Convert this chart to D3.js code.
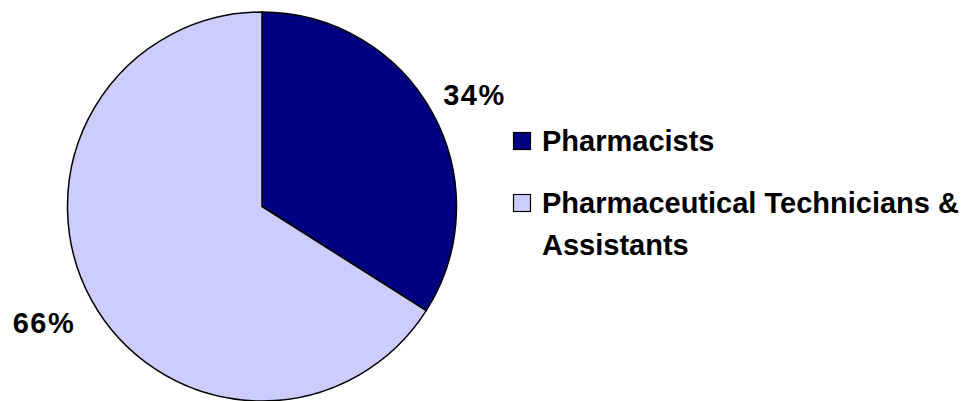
<!DOCTYPE html>
<html>
<head>
<meta charset="utf-8">
<script src="https://cdn.jsdelivr.net/npm/d3@7"></script>
<style>
  html, body { margin: 0; padding: 0; background: #fff; }
  svg { display: block; }
  text { font-family: Arial, "Liberation Sans", sans-serif; font-weight: bold; fill: #000; }
</style>
</head>
<body>
<svg id="chart" width="969" height="401"></svg>
<script>
const categories = ["Pharmacists", "Pharmaceutical Technicians & Assistants"];
const values = [34, 66];
const labels = ["34%", "66%"];
const legendLines = [["Pharmacists"], ["Pharmaceutical Technicians &", "Assistants"]];
const colors = ["#000080", "#CCCCFF"];

const svg = d3.select("#chart");
const cx = 262, cy = 206.5, r = 194.5;

const pie = d3.pie().sort(null).value(d => d)(values);
const arc = d3.arc().innerRadius(0).outerRadius(r);

const g = svg.append("g").attr("transform", `translate(${cx},${cy})`);
g.selectAll("path").data(pie).enter().append("path")
  .attr("d", arc)
  .attr("fill", (d, i) => colors[i])
  .attr("stroke", "#000")
  .attr("stroke-width", 1.5)
  .attr("stroke-linejoin", "round");

// percentage labels placed outside the slices
const labelPos = [[474.5, 105], [44, 333]];
g.selectAll("text.pct").data(pie).enter().append("text")
  .attr("class", "pct")
  .attr("x", (d, i) => labelPos[i][0] - cx)
  .attr("y", (d, i) => labelPos[i][1] - cy)
  .attr("text-anchor", "middle")
  .style("font-size", "29px")
  .style("letter-spacing", "1.5px")
  .text((d, i) => labels[i]);

// legend
const legend = svg.append("g");
const legendY = [132, 194];
categories.forEach((c, i) => {
  legend.append("rect")
    .attr("x", 513.5).attr("y", legendY[i] + 0.5)
    .attr("width", 17).attr("height", 17)
    .attr("fill", colors[i])
    .attr("stroke", "#000").attr("stroke-width", 1.2);
  const t = legend.append("text")
    .attr("x", 542).attr("y", legendY[i] + 19)
    .style("font-size", "29px");
  legendLines[i].forEach((line, j) => {
    t.append("tspan").attr("x", 542).attr("dy", j === 0 ? 0 : 42).text(line);
  });
});
</script>
</body>
</html>
